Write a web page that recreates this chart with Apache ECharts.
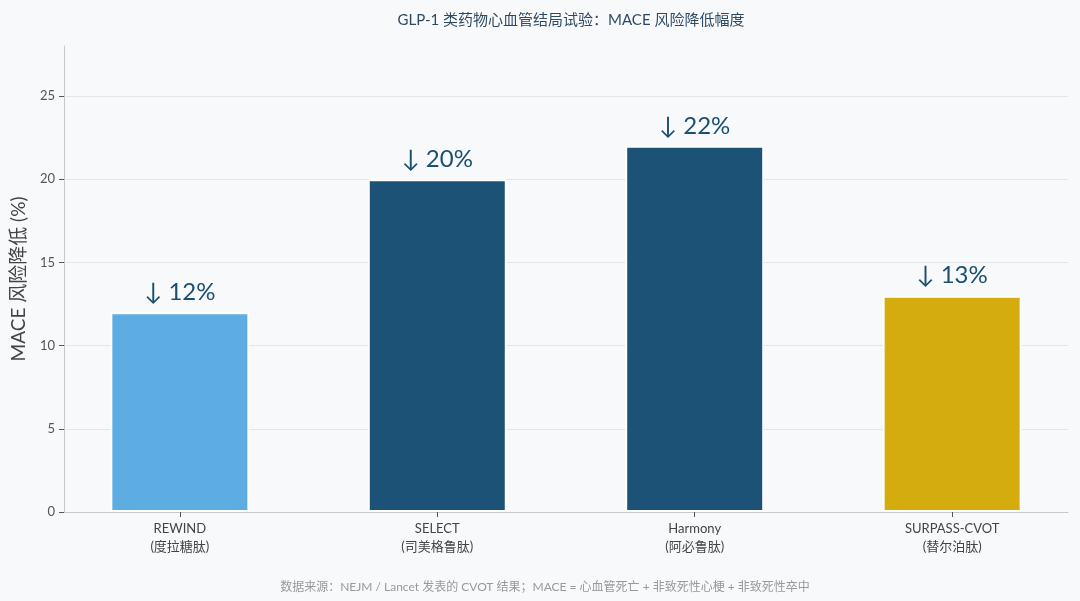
<!DOCTYPE html>
<html>
<head>
<meta charset="utf-8">
<script src="https://cdn.jsdelivr.net/npm/echarts@6/dist/echarts.min.js"></script>
<style>
  html, body { margin: 0; padding: 0; background: #f8f9fb; }
  #chart { width: 1080px; height: 601px; }
</style>
</head>
<body>
<div id="chart"></div>
<script>
// trial names and drugs, one bar each
var trials = ['REWIND', 'SELECT', 'Harmony', 'SURPASS-CVOT'];
var drugs = ['度拉糖肽', '司美格鲁肽', '阿必鲁肽', '替尔泊肽'];
var reduction = [12, 20, 22, 13];
var barColors = ['#5dade2', '#1b5276', '#1b5276', '#d4ac0d'];

var font = "Lato, 'Noto Sans CJK SC', sans-serif";
var chart = echarts.init(document.getElementById('chart'));

var option = {
  backgroundColor: '#f8f9fb',
  textStyle: { fontFamily: font },
  title: [{
    text: 'GLP-1 类药物心血管结局试验：MACE 风险降低幅度',
    left: 566, top: 8, textAlign: 'center',
    textStyle: { fontSize: 15, fontWeight: 'normal', color: '#2e4a62', fontFamily: font }
  }, {
    text: '数据来源：NEJM / Lancet 发表的 CVOT 结果；MACE = 心血管死亡 + 非致死性心梗 + 非致死性卒中',
    left: 540, top: 576, textAlign: 'center',
    textStyle: { fontSize: 12, fontWeight: 'normal', color: '#999999', fontFamily: font }
  }],
  grid: { left: 64, right: 12, top: 46, bottom: 89, outerBoundsMode: 'none', containLabel: false },
  xAxis: {
    type: 'value',
    min: -0.45, max: 3.45,
    splitLine: { show: false },
    axisLine: { show: true, onZero: false, lineStyle: { color: '#c8c8c8', width: 1 } },
    axisTick: {
      show: true, length: 5, customValues: [0, 1, 2, 3],
      lineStyle: { color: '#555' }
    },
    axisLabel: {
      customValues: [0, 1, 2, 3],
      fontSize: 13, color: '#444', lineHeight: 18, margin: 8,
      formatter: function (v) {
        var i = Math.round(v);
        return trials[i] + '\n(' + drugs[i] + ')';
      }
    }
  },
  yAxis: {
    type: 'value',
    min: 0, max: 28, interval: 5,
    name: 'MACE 风险降低 (%)',
    nameLocation: 'middle', nameGap: 36,
    nameTextStyle: { fontSize: 19, color: '#444' },
    axisLine: { show: true, onZero: false, lineStyle: { color: '#c8c8c8', width: 1 } },
    axisTick: { show: true, length: 5, lineStyle: { color: '#555' } },
    axisLabel: { fontSize: 13, color: '#555', margin: 9, showMaxLabel: false },
    splitLine: { show: true, showMaxLine: false, lineStyle: { color: '#e3e5e8', width: 1 } }
  },
  series: [{
    type: 'bar',
    barWidth: 139,
    data: reduction.map(function (v, i) {
      return {
        value: [i, v],
        itemStyle: { color: barColors[i], borderColor: '#ffffff', borderWidth: 2 }
      };
    }),
    label: {
      show: true, position: 'top', distance: 8,
      fontSize: 24, color: '#1b4f72',
      formatter: function (p) { return '↓ ' + p.value[1] + '%'; }
    }
  }]
};

chart.setOption(option);
</script>
</body>
</html>
